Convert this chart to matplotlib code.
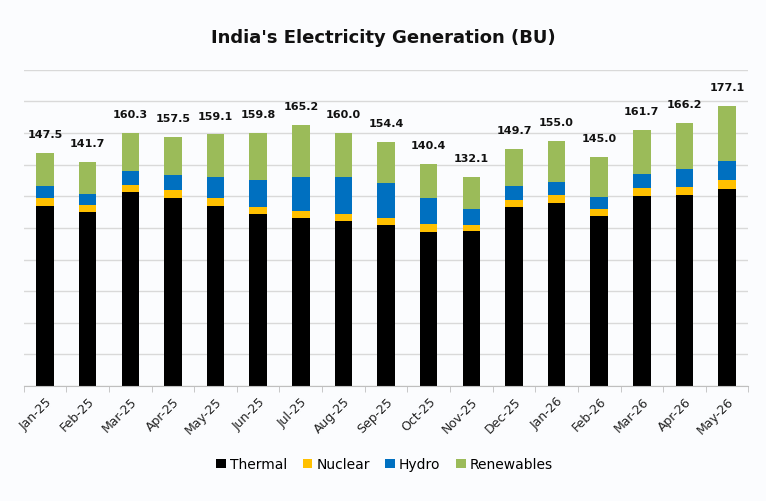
import matplotlib
matplotlib.use("Agg")
import matplotlib.pyplot as plt
import numpy as np

months = ["Jan-25", "Feb-25", "Mar-25", "Apr-25", "May-25", "Jun-25", "Jul-25", "Aug-25",
          "Sep-25", "Oct-25", "Nov-25", "Dec-25", "Jan-26", "Feb-26", "Mar-26", "Apr-26", "May-26"]
thermal = [114.1, 110.3, 122.4, 119.0, 114.1, 109.1, 106.1, 104.6, 102.1, 97.7, 97.9, 113.5,
           115.8, 107.4, 120.0, 121.1, 124.5]
nuclear = [4.9, 4.3, 4.8, 4.8, 5.1, 4.2, 4.9, 4.1, 4.2, 4.8, 4.0, 4.2, 5.3, 4.8, 5.1, 5.0, 5.7]
hydro = [7.2, 6.7, 9.1, 9.7, 13.3, 16.9, 21.5, 23.4, 22.0, 16.7, 9.9, 8.7, 8.2, 7.6, 9.3, 11.1, 12.4]
totals = [147.5, 141.7, 160.3, 157.5, 159.1, 159.8, 165.2, 160.0, 154.4, 140.4, 132.1, 149.7,
          155.0, 145.0, 161.7, 166.2, 177.1]
renewables = [round(t - a - b - c, 1) for t, a, b, c in zip(totals, thermal, nuclear, hydro)]

series_names = ["Thermal", "Nuclear", "Hydro", "Renewables"]
colors = ["#000000", "#FFC000", "#0070C0", "#9BBB59"]

fig = plt.figure(figsize=(7.66, 5.02), dpi=100)
fig.patch.set_facecolor("#FBFCFE")
ax = fig.add_axes([0.031, 0.229, 0.946, 0.630])
ax.set_facecolor("none")

x = np.arange(len(months))
bottom = np.zeros(len(months))
handles = []
for name, vals, c in zip(series_names, [thermal, nuclear, hydro, renewables], colors):
    h = ax.bar(x, vals, width=0.41, bottom=bottom, color=c, label=name, zorder=3)
    handles.append(h)
    bottom += np.array(vals)

for xi, t in zip(x, totals):
    ax.annotate(f"{t:.1f}", (xi, t), xytext=(0, 10), textcoords="offset points",
                ha="center", va="bottom", fontsize=8, fontweight="bold", color="#111111")

ax.set_ylim(0, 200)
ax.set_xlim(-0.5, len(months) - 0.5)
ax.set_yticks(np.arange(0, 201, 20))
ax.yaxis.grid(True, color="#D9D9D9", linewidth=1.0, zorder=0)
ax.tick_params(axis="y", left=False, labelleft=False)
for s in ["top", "right", "left"]:
    ax.spines[s].set_visible(False)
ax.spines["bottom"].set_color("#BFBFBF")
ax.spines["bottom"].set_zorder(4)

ax.set_xticks(x)
ax.set_xticklabels(months, rotation=45, ha="right", rotation_mode="anchor",
                   fontsize=9, color="#222222")
ax.set_xticks(np.arange(-0.5, len(months), 1), minor=True)
ax.tick_params(axis="x", which="major", length=0, pad=6)
ax.tick_params(axis="x", which="minor", length=4, color="#BFBFBF")

fig.text(0.5, 0.925, "India's Electricity Generation (BU)", ha="center", va="center",
         fontsize=13, fontweight="bold", color="#111111", family=["Liberation Sans Narrow", "DejaVu Sans"])

leg = fig.legend(handles=handles, labels=series_names, loc="center", bbox_to_anchor=(0.502, 0.073),
                 ncol=4, frameon=False, fontsize=10, handlelength=0.7, handleheight=0.7,
                 handletextpad=0.3, columnspacing=1.1)

fig.savefig("out.png", dpi=100, facecolor=fig.get_facecolor())
